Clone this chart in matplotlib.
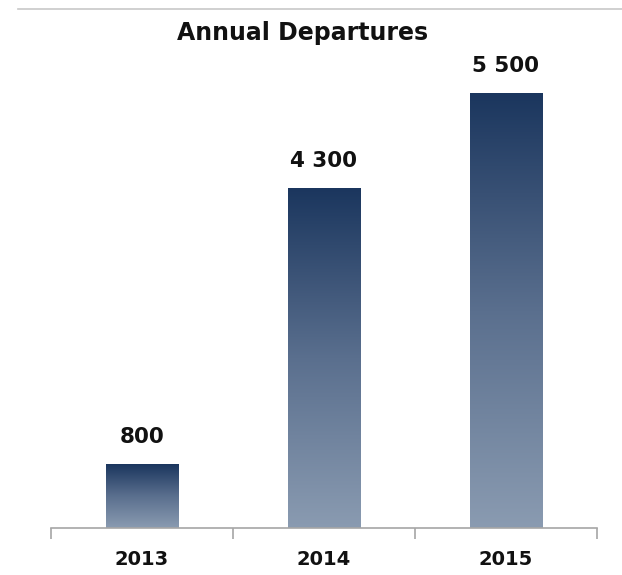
import numpy as np
import matplotlib
matplotlib.use("Agg")
import matplotlib.pyplot as plt
from matplotlib.colors import LinearSegmentedColormap

# data
years = ["2013", "2014", "2015"]
departures = [800, 4300, 5500]
labels = ["800", "4 300", "5 500"]

plt.rcParams['font.family'] = ['DejaVu Sans']

fig = plt.figure(figsize=(6.22, 5.75), dpi=100)
ax = fig.add_axes([51 / 622, 1 - 528 / 575, 546 / 622, 468 / 575])

# thin grey rule at top of the picture
fig.add_artist(plt.Line2D([18 / 622, 1], [1 - 8.5 / 575] * 2, color="#c8c8c8", lw=1.2))

cmap = LinearSegmentedColormap.from_list("bar", ["#8a9bb1", "#5a6f8e", "#1b365e"])
grad = np.linspace(0, 1, 256).reshape(-1, 1)

x = np.arange(len(years))
width = 0.4
for xi, v, lab in zip(x, departures, labels):
    ax.imshow(grad, cmap=cmap, aspect="auto", origin="lower",
              extent=[xi - width / 2, xi + width / 2, 0, v], zorder=2)
    ax.text(xi, v + 230, lab, ha="center", va="bottom", fontsize=15.5,
            fontweight="bold", color="#111111")

ax.set_xlim(-0.5, 2.5)
ax.set_ylim(0, 468 / (434 / 5500))

for s in ["top", "right", "left"]:
    ax.spines[s].set_visible(False)
ax.spines["bottom"].set_color("#a6a6a6")
ax.spines["bottom"].set_linewidth(1.2)
ax.set_yticks([])

ax.set_xticks(x)
ax.set_xticklabels(years, fontsize=14, fontweight="bold", color="#111111")
ax.tick_params(axis="x", which="major", length=0, pad=16)
ax.set_xticks([-0.5, 0.5, 1.5, 2.5], minor=True)
ax.tick_params(axis="x", which="minor", length=8, width=1.2, color="#a6a6a6", direction="out")

fig.text(303 / 622, 1 - 33 / 575, "Annual Departures", ha="center", va="center",
         fontsize=17, fontweight="bold", color="#111111")

fig.savefig("out.png", dpi=100)
